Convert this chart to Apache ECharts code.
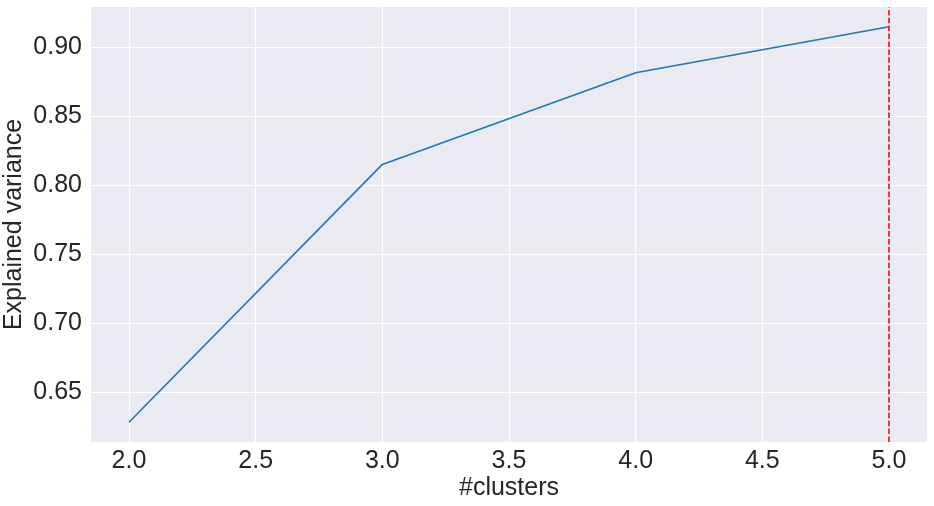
<!DOCTYPE html>
<html>
<head>
<meta charset="utf-8">
<script src="https://cdn.jsdelivr.net/npm/echarts@6/dist/echarts.min.js"></script>
<style>
html,body{margin:0;padding:0;background:#fff;}
#chart{width:934px;height:506px;}
</style>
</head>
<body>
<div id="chart"></div>
<script>
const clusters = [2, 3, 4, 5];
const explainedVariance = [0.6285, 0.8152, 0.8816, 0.9149];
const xTicks = [2.0, 2.5, 3.0, 3.5, 4.0, 4.5, 5.0];
const yTicks = [0.65, 0.70, 0.75, 0.80, 0.85, 0.90];
const chosenK = 5;

const font = 'Liberation Sans, Arial, sans-serif';
const textColor = '#262626';

const chart = echarts.init(document.getElementById('chart'), null, {renderer: 'canvas'});
chart.setOption({
  animation: false,
  backgroundColor: '#ffffff',
  grid: {
    left: 91, right: 7, top: 7, bottom: 64,
    show: true, backgroundColor: '#EAEAF2', borderWidth: 0,
    containLabel: false,
    outerBoundsMode: 'none'
  },
  xAxis: {
    type: 'value',
    min: 1.85, max: 5.15,
    name: '#clusters',
    nameLocation: 'middle',
    nameGap: 34,
    nameMoveOverlap: false,
    nameTextStyle: {fontFamily: font, fontSize: 25, color: textColor},
    axisLine: {show: false},
    axisTick: {show: false, customValues: xTicks},
    axisLabel: {
      customValues: xTicks,
      margin: 7,
      fontFamily: font, fontSize: 25, color: textColor,
      formatter: v => Number(v).toFixed(1)
    },
    splitLine: {show: true, lineStyle: {color: '#ffffff', width: 1.2}}
  },
  yAxis: {
    type: 'value',
    min: 0.6142, max: 0.9292,
    name: 'Explained variance',
    nameLocation: 'middle',
    nameGap: 64,
    nameMoveOverlap: false,
    nameRotate: 90,
    nameTextStyle: {fontFamily: font, fontSize: 25, color: textColor},
    axisLine: {show: false},
    axisTick: {show: false, customValues: yTicks},
    axisLabel: {
      customValues: yTicks,
      margin: 9,
      fontFamily: font, fontSize: 25, color: textColor,
      formatter: v => Number(v).toFixed(2)
    },
    splitLine: {show: true, lineStyle: {color: '#ffffff', width: 1.2}}
  },
  series: [{
    type: 'line',
    data: clusters.map((c, i) => [c, explainedVariance[i]]),
    showSymbol: false,
    lineStyle: {color: '#1f77b4', width: 1.6},
    itemStyle: {color: '#1f77b4'},
    markLine: {
      silent: true,
      symbol: ['none', 'none'],
      label: {show: false},
      lineStyle: {color: '#ff0000', width: 1.6, type: [5.5, 2.4]},
      data: [{xAxis: chosenK}]
    }
  }]
});
</script>
</body>
</html>
